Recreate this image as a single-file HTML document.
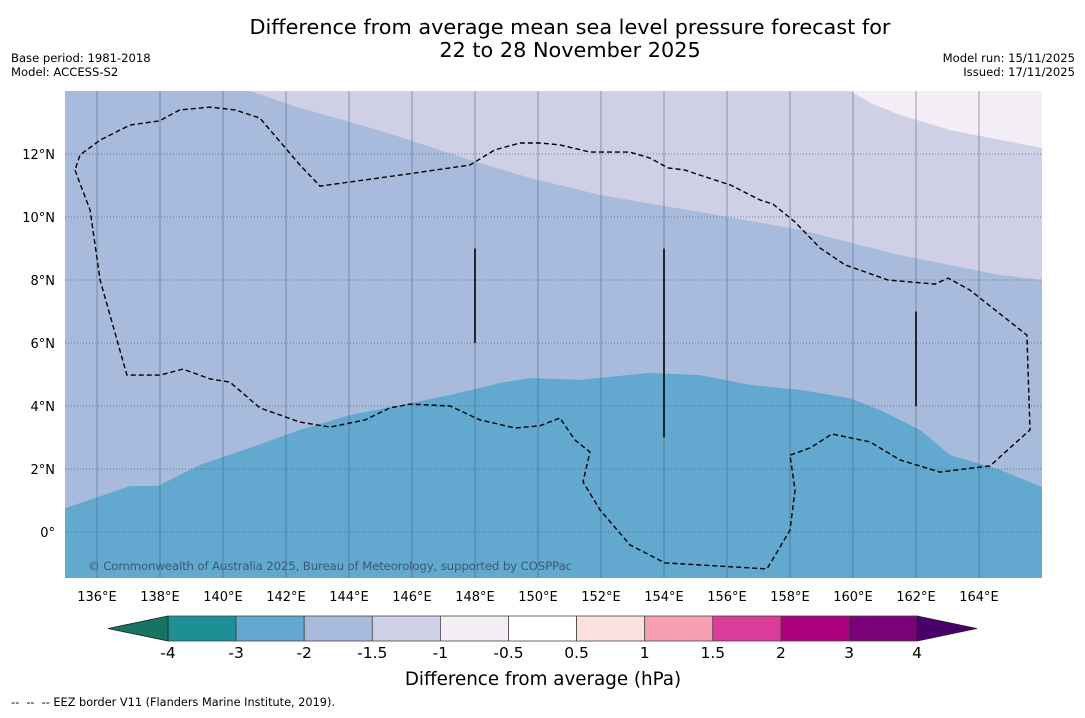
<!DOCTYPE html>
<html><head><meta charset="utf-8"><style>
body{margin:0;background:#fff;font-family:"Liberation Sans","DejaVu Sans",sans-serif;}
svg text{font-family:"DejaVu Sans","Liberation Sans",sans-serif;}
</style></head><body>
<svg id="c" width="1085" height="713" xmlns="http://www.w3.org/2000/svg">
<text x="570" y="34" font-size="20.8" text-anchor="middle">Difference from average mean sea level pressure forecast for</text>
<text x="570" y="57" font-size="20.8" text-anchor="middle">22 to 28 November 2025</text>
<text x="11" y="62" font-size="11.6">Base period: 1981-2018</text>
<text x="11" y="76" font-size="11.6">Model: ACCESS-S2</text>
<text x="1075" y="62" font-size="11.6" text-anchor="end">Model run: 15/11/2025</text>
<text x="1075" y="76" font-size="11.6" text-anchor="end">Issued: 17/11/2025</text>
<defs><clipPath id="mc"><rect x="65" y="91" width="977" height="487"/></clipPath></defs>
<g id="map" clip-path="url(#mc)"></g>
<g id="axes"></g>
<g id="cbar"></g>
<text x="543" y="685" font-size="18.3" text-anchor="middle">Difference from average (hPa)</text>
<text x="11" y="706" font-size="11.3" xml:space="preserve">--  --  -- EEZ border V11 (Flanders Marine Institute, 2019).</text>
</svg>
<script>
const xTicks=[136,138,140,142,144,146,148,150,152,154,156,158,160,162,164];
const yTicks=[0,2,4,6,8,10,12];
const levels=["-4","-3","-2","-1.5","-1","-0.5","0.5","1","1.5","2","3","4"];
const levelColors=["#1f8f96","#62a8cf","#a8bbdc","#cfd0e6","#f3eef6","#ffffff","#fde0e0","#f7a0b4","#db3c9a","#ae017e","#7a0177"];
const lowColor="#147562", highColor="#49006a";
const bandLight=[[159.6,14.3],[159.9,14],[160.6,13.6],[161.49,13.24],[163.08,12.76],[166,12.19]];
const bandMid=[[140.86,14],[142.44,13.46],[144.03,13.02],[145.62,12.54],[147.84,11.81],[149.75,11.24],[151.97,10.7],[155.14,10.16],[158.32,9.59],[161.49,8.79],[164.67,8.16],[166,8.0]];
const bandLow=[[135,0.76],[137.05,1.46],[137.94,1.46],[139.27,2.13],[140.86,2.67],[142.44,3.24],[144.03,3.71],[145.62,4.03],[147.21,4.35],[148.79,4.73],[149.75,4.89],[151.33,4.83],[153.56,5.05],[155.14,4.98],[156.73,4.67],[158.32,4.51],[159.9,4.25],[160.86,3.87],[162.13,3.24],[163.08,2.44],[164.67,1.97],[166,1.43]];
const eez=[[135.3,11.49],[135.78,10.22],[136.1,8.0],[136.95,4.98],[138.0,4.98],[138.73,5.17],[139.59,4.86],[140.22,4.76],[141.17,3.94],[142.44,3.49],[143.4,3.33],[144.51,3.56],[145.3,3.94],[145.94,4.06],[147.21,4.0],[148.16,3.56],[149.27,3.3],[150.06,3.37],[150.7,3.62],[151.17,2.92],[151.65,2.54],[151.43,1.59],[151.97,0.7],[152.92,-0.41],[154.03,-0.98],[157.27,-1.17],[158.0,0.06],[158.16,1.33],[158.0,2.44],[158.64,2.67],[159.33,3.11],[160.54,2.86],[161.49,2.29],[162.76,1.9],[164.35,2.1],[165.62,3.24],[165.52,6.25],[163.71,7.68],[163.02,8.06],[162.6,7.87],[161.11,8.0],[159.75,8.48],[158.95,9.02],[158.16,9.84],[157.46,10.41],[157.05,10.54],[156.1,11.02],[155.14,11.33],[154.67,11.49],[154.13,11.56],[153.56,11.87],[152.92,12.06],[151.65,12.06],[150.7,12.29],[150.06,12.35],[149.43,12.35],[148.63,12.13],[147.84,11.65],[147.21,11.56],[145.62,11.33],[144.03,11.11],[143.08,10.98],[142.44,11.65],[141.17,13.14],[140.38,13.4],[139.59,13.49],[138.63,13.4],[137.98,13.05],[137.05,12.92],[136.1,12.44],[135.46,11.97],[135.3,11.49]];
const segments=[[148,9,6],[154,9,3],[162,7,4]];
const NS="http://www.w3.org/2000/svg";
const X=lon=>65.5+(lon-135)*31.5, Y=lat=>91+(14-lat)*31.5;
function mk(t,a,p){const e=document.createElementNS(NS,t);for(const k in a)e.setAttribute(k,a[k]);p.appendChild(e);return e;}
const map=document.getElementById('map'),axes=document.getElementById('axes'),cb=document.getElementById('cbar');
const pts=a=>a.map(p=>X(p[0]).toFixed(1)+","+Y(p[1]).toFixed(1)).join(" ");
let r=mk('rect',{x:65,y:91,width:977,height:487,fill:"#a8bbdc"},map);


let p=mk('polygon',{points:pts(bandMid)+" "+X(166)+","+Y(14.5)+" "+X(140)+","+Y(14.5),fill:"#cfd0e6"},map);


p=mk('polygon',{points:pts(bandLight)+" "+X(166.5)+","+Y(14.5),fill:"#f3eef6"},map);


p=mk('polygon',{points:pts(bandLow)+" "+X(166.5)+","+Y(-2)+" "+X(134.5)+","+Y(-2),fill:"#62a8cf"},map);


xTicks.forEach(v=>{let l=mk('line',{x1:X(v),x2:X(v),y1:91,y2:578,stroke:"#44607a","stroke-opacity":0.55,"stroke-width":1},map);


let t=mk('text',{x:X(v),y:601,"font-size":13,"text-anchor":"middle"},axes);t.textContent=v+"°E";

});
yTicks.forEach(v=>{let l=mk('line',{x1:65,x2:1042,y1:Y(v),y2:Y(v),stroke:"#44607a","stroke-opacity":0.7,"stroke-width":1,"stroke-dasharray":"1,2"},map);


let t=mk('text',{x:55,y:Y(v)+5,"font-size":13,"text-anchor":"end"},axes);t.textContent=v===0?"0°":v+"°N";

});
p=mk('polyline',{points:pts(eez),fill:"none",stroke:"#000","stroke-width":1.4,"stroke-dasharray":"5,3"},map);


segments.forEach(s=>{let l=mk('line',{x1:X(s[0]),x2:X(s[0]),y1:Y(s[1]),y2:Y(s[2]),stroke:"#000","stroke-width":1.6},map);

});
let ct=mk('text',{x:88,y:570,"font-size":11.8,fill:"#3d5a73",textLength:484},map);ct.textContent="© Commonwealth of Australia 2025, Bureau of Meteorology, supported by COSPPac";


const cx0=168,cw=68.1,cy=616,ch=25;
levelColors.forEach((c,i)=>{let b=mk('rect',{x:cx0+i*cw,y:cy,width:cw,height:ch,fill:c,stroke:"#444","stroke-width":0.8},cb);

});
let tl=mk('polygon',{points:`108,${cy+ch/2} ${cx0},${cy} ${cx0},${cy+ch}`,fill:lowColor,stroke:"#222","stroke-width":0.8},cb);


const xe=cx0+levelColors.length*cw;
let tr=mk('polygon',{points:`${xe},${cy} 977,${cy+ch/2} ${xe},${cy+ch}`,fill:highColor,stroke:"#222","stroke-width":0.8},cb);


levels.forEach((v,i)=>{let t=mk('text',{x:cx0+i*cw,y:658,"font-size":15.5,"text-anchor":"middle"},cb);t.textContent=v;

});
</script>
</body></html>
